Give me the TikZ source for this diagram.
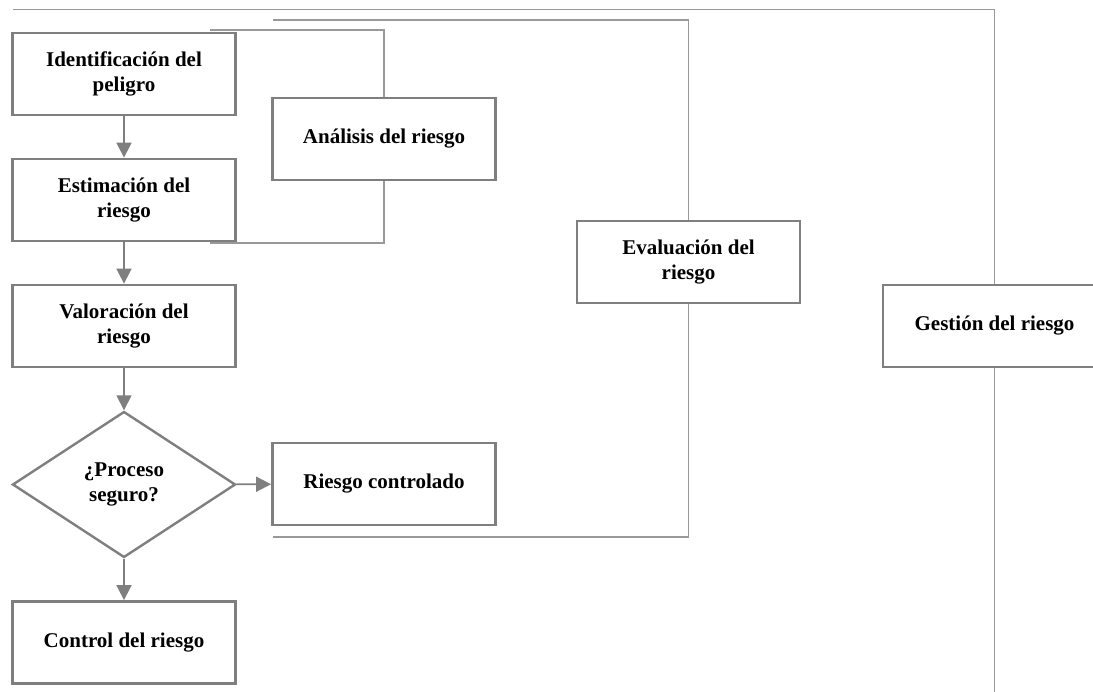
\documentclass[tikz,border=0pt]{standalone}
\usepackage{fontspec}
\setmainfont{Liberation Serif}
\usetikzlibrary{arrows.meta,shapes.geometric}
\definecolor{boxline}{HTML}{7F7F7F}
\definecolor{brline}{HTML}{999999}
\tikzset{
  stepbox/.style={draw=boxline, line width=2.8pt, fill=white, minimum width=223pt,
    minimum height=82pt, inner sep=2pt, align=center,
    font=\fontsize{21}{25}\selectfont\bfseries},
  decision/.style={diamond, draw=boxline, line width=2.4pt, fill=white,
    minimum width=223pt, minimum height=146pt, inner sep=0pt, align=center,
    font=\fontsize{21}{25}\selectfont\bfseries},
  flow/.style={draw=boxline, line width=1.7pt, -{Triangle[width=15pt,length=15pt]}},
  bracket/.style={draw=brline, line width=1.8pt}
}
\begin{document}
\begin{tikzpicture}[x=1pt,y=-1pt]
\useasboundingbox (0,0) rectangle (1093,692);

% left column: the assessment steps
\node[stepbox] (ident) at (124,74) {Identificación del\\peligro};
\node[stepbox] (estim) at (124,200) {Estimación del\\riesgo};
\node[stepbox] (valor) at (124,326) {Valoración del\\riesgo};
\node[decision] (seguro) at (124,484.5) {¿Proceso\\seguro?};
\node[stepbox] (control) at (124,642.5) {Control del riesgo};
\node[stepbox] (ctrl) at (384,484) {Riesgo controlado};

% grouping labels
\node[stepbox] (analisis) at (384,139) {Análisis del riesgo};
\node[stepbox] (evalua) at (688.5,262) {Evaluación del\\riesgo};
\node[stepbox] (gestion) at (994.5,326) {Gestión del riesgo};

% flow arrows
\draw[flow] (ident) -- (estim);
\draw[flow] (estim) -- (valor);
\draw[flow] (valor) -- (seguro);
\draw[flow] (seguro) -- (control);
\draw[flow] (seguro) -- (ctrl);

% bracket ends
\coordinate (aT) at (210,30);
\coordinate (aB) at (210,243);
\coordinate (eT) at (273,20);
\coordinate (eB) at (273,537);
\coordinate (gT) at (13,9.5);
\coordinate (gB) at (994.5,700);

% brackets
\draw[bracket] (aT) -- (analisis.north |- aT) -- (analisis.north);
\draw[bracket] (analisis.south) -- (analisis.south |- aB) -- (aB);
\draw[bracket] (eT) -- (evalua.north |- eT) -- (evalua.north);
\draw[bracket] (evalua.south) -- (evalua.south |- eB) -- (eB);
\draw[bracket] (gT) -- (gestion.north |- gT) -- (gestion.north);
\draw[bracket] (gestion.south) -- (gB);
\end{tikzpicture}
\end{document}
